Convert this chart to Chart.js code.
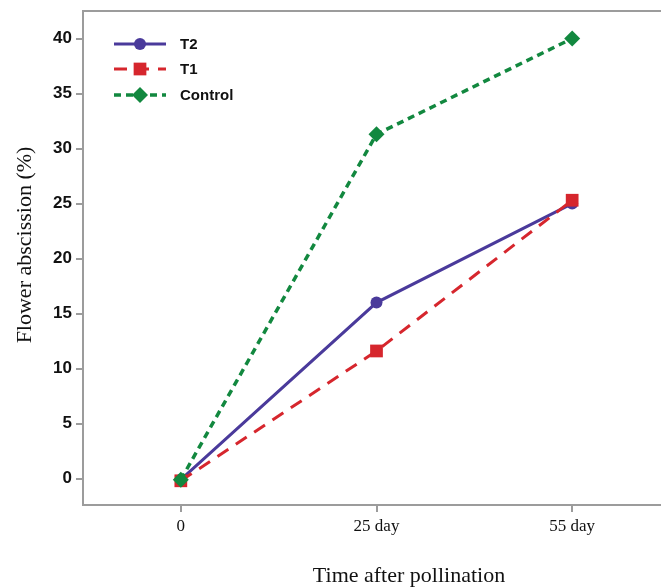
<!DOCTYPE html>
<html>
<head>
<meta charset="utf-8">
<script src="https://cdn.jsdelivr.net/npm/chart.js@4/dist/chart.umd.min.js"></script>
<style>
html,body{margin:0;padding:0;background:#fff;overflow:hidden;}
#wrap{width:680px;height:588px;position:relative;}
</style>
</head>
<body>
<div id="wrap"><canvas id="c" width="680" height="588"></canvas></div>
<script>
const categories = ["0", "25 day", "55 day"];
const seriesNames = ["T2", "T1", "Control"];
const t2Values = [-0.1, 16.0, 25.0];
const t1Values = [-0.2, 11.6, 25.3];
const controlValues = [-0.1, 31.3, 40.0];
const yTickValues = [0, 5, 10, 15, 20, 25, 30, 35, 40];
const xTitle = "Time after pollination";
const yTitle = "Flower abscission (%)";

const colors = ["#4a3a9b", "#d6262d", "#12883f"];
const toXY = vals => vals.map((v, i) => ({x: i, y: v}));

const datasets = [
  {label: seriesNames[0], data: toXY(t2Values), borderColor: colors[0], backgroundColor: colors[0],
   borderWidth: 3, borderDash: [], pointStyle: 'circle', pointRadius: 6, order: 3},
  {label: seriesNames[1], data: toXY(t1Values), borderColor: colors[1], backgroundColor: colors[1],
   borderWidth: 3, borderDash: [13, 9], pointStyle: 'rect', pointRadius: 9, order: 2},
  {label: seriesNames[2], data: toXY(controlValues), borderColor: colors[2], backgroundColor: colors[2],
   borderWidth: 3.5, borderDash: [7, 5], pointStyle: 'rectRot', pointRadius: 8, order: 1}
];
datasets.forEach(d => { d.pointBorderWidth = 0; d.tension = 0; d.fill = false; d.pointHoverRadius = d.pointRadius; });

const axisGrey = "#9c9c9c";

const decor = {
  id: 'decor',
  afterDraw(chart) {
    const ctx = chart.ctx, a = chart.chartArea;
    ctx.save();
    // top frame line
    ctx.strokeStyle = axisGrey; ctx.lineWidth = 2;
    ctx.beginPath(); ctx.moveTo(a.left - 1, a.top); ctx.lineTo(a.right + 20, a.top); ctx.stroke();
    // legend
    const lx0 = 114, lx1 = 166, tx = 180, ys = [44, 69, 95];
    chart.data.datasets.forEach((ds, i) => {
      const y = ys[i];
      ctx.strokeStyle = ds.borderColor; ctx.lineWidth = ds.borderWidth;
      ctx.setLineDash(ds.borderDash);
      ctx.beginPath(); ctx.moveTo(lx0, y); ctx.lineTo(lx1, y); ctx.stroke();
      ctx.setLineDash([]);
      ctx.fillStyle = ds.backgroundColor;
      Chart.helpers.drawPoint(ctx, {pointStyle: ds.pointStyle, radius: ds.pointRadius, borderWidth: 0}, (lx0 + lx1) / 2, y);
      ctx.fillStyle = "#111";
      ctx.font = "bold 15px 'Liberation Sans', Arial, sans-serif";
      ctx.textAlign = 'left'; ctx.textBaseline = 'middle';
      ctx.fillText(ds.label, tx, y + 1);
    });
    // axis titles
    ctx.fillStyle = "#111";
    ctx.font = "22px 'Liberation Serif', 'Times New Roman', serif";
    ctx.textAlign = 'center'; ctx.textBaseline = 'middle';
    ctx.fillText(xTitle, 409, 576);
    ctx.translate(25, 245); ctx.rotate(-Math.PI / 2);
    ctx.fillText(yTitle, 0, 0);
    ctx.restore();
  }
};

new Chart(document.getElementById('c'), {
  type: 'line',
  data: {datasets},
  options: {
    responsive: false, animation: false,
    layout: {padding: {top: 11, right: 10, left: 0, bottom: 0}},
    plugins: {legend: {display: false}, tooltip: {enabled: false}},
    scales: {
      x: {
        type: 'linear', min: -0.5, max: 2.5,
        afterBuildTicks: s => { s.ticks = categories.map((c, i) => ({value: i})); },
        afterFit: s => { s.height = 83; s.paddingLeft = 0; s.paddingRight = 0; },
        ticks: {callback: (v) => categories[v] ?? '', color: "#111", padding: 4,
                font: {family: "'Liberation Serif', 'Times New Roman', serif", size: 17}, maxRotation: 0},
        grid: {drawOnChartArea: false, drawTicks: true, tickLength: 7, color: axisGrey, lineWidth: 2},
        border: {color: axisGrey, width: 2}
      },
      y: {
        min: -2.4, max: 42.5,
        afterBuildTicks: s => { s.ticks = yTickValues.map(v => ({value: v})); },
        afterFit: s => { s.width = 83; s.paddingTop = 0; s.paddingBottom = 0; },
        ticks: {color: "#111", padding: 4,
                font: {family: "'Liberation Sans', Arial, sans-serif", size: 17, weight: 'bold'}},
        grid: {drawOnChartArea: false, drawTicks: true, tickLength: 7, color: axisGrey, lineWidth: 2},
        border: {color: axisGrey, width: 2}
      }
    }
  },
  plugins: [decor]
});
</script>
</body>
</html>
